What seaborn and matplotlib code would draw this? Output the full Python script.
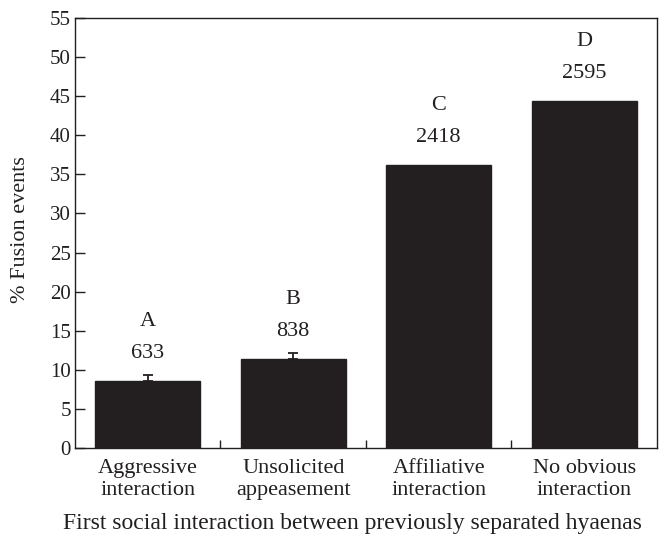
import matplotlib
matplotlib.use("Agg")
import matplotlib.pyplot as plt
import seaborn as sns
import pandas as pd
import numpy as np

categories = ["Aggressive\ninteraction", "Unsolicited\nappeasement",
              "Affiliative\ninteraction", "No obvious\ninteraction"]
values = [8.6, 11.4, 36.2, 44.4]
errors = [0.7, 0.7, 0.0, 0.0]
letters = ["A", "B", "C", "D"]
counts = ["633", "838", "2418", "2595"]
yticks = list(range(0, 56, 5))

sns.set_theme(style="ticks")
plt.rcParams["font.family"] = ["Liberation Serif", "DejaVu Serif"]

dark = "#231f20"
FS = 16
fig = plt.figure(figsize=(6.67, 5.39), dpi=100)
ax = fig.add_axes([0.1124, 0.1688, 0.985 - 0.1124, 0.9666 - 0.1688])

df = pd.DataFrame({"cat": categories, "val": values})
sns.barplot(data=df, x="cat", y="val", color=dark, saturation=1,
            width=0.72, errorbar=None, ax=ax, edgecolor=dark)

xs = np.arange(len(categories))
for x, v, e in zip(xs, values, errors):
    if e > 0:
        ax.errorbar(x, v, yerr=[[0], [e]], color=dark, capsize=3.5,
                    elinewidth=1.3, capthick=1.3, fmt="none")

for x, v, l, c in zip(xs, values, letters, counts):
    ax.annotate(c, (x, v), xytext=(0, 20), textcoords="offset points",
                ha="center", va="center", fontsize=FS, color=dark)
    ax.annotate(l, (x, v), xytext=(0, 43), textcoords="offset points",
                ha="center", va="center", fontsize=FS, color=dark)

ax.set_xlim(-0.5, 3.5)
ax.set_ylim(0, 55)
ax.set_yticks(yticks)
ax.set_yticklabels([str(t) for t in yticks], fontsize=15, color=dark)

ax.set_xticks(xs)
ax.set_xticklabels(categories, fontsize=FS, color=dark, linespacing=1.2)
ax.tick_params(axis="x", length=0, pad=8)
ax.set_xticks([0.5, 1.5, 2.5], minor=True)
ax.tick_params(axis="x", which="minor", direction="in", length=6, width=1, color=dark)
ax.tick_params(axis="y", direction="in", length=7, width=1, color=dark, pad=3)

for s in ax.spines.values():
    s.set_color(dark)
    s.set_linewidth(1.0)
    s.set_visible(True)

ax.set_xlabel("")
ax.set_ylabel("")
fig.text(63 / 667, 1 - 524 / 539,
         "First social interaction between previously separated hyaenas",
         fontsize=17, color=dark, ha="left", va="center")
fig.text(21 / 667, 1 - 230 / 539, "% Fusion events", fontsize=16, color=dark,
         rotation=90, ha="center", va="center")

fig.savefig("out.png", dpi=100)
